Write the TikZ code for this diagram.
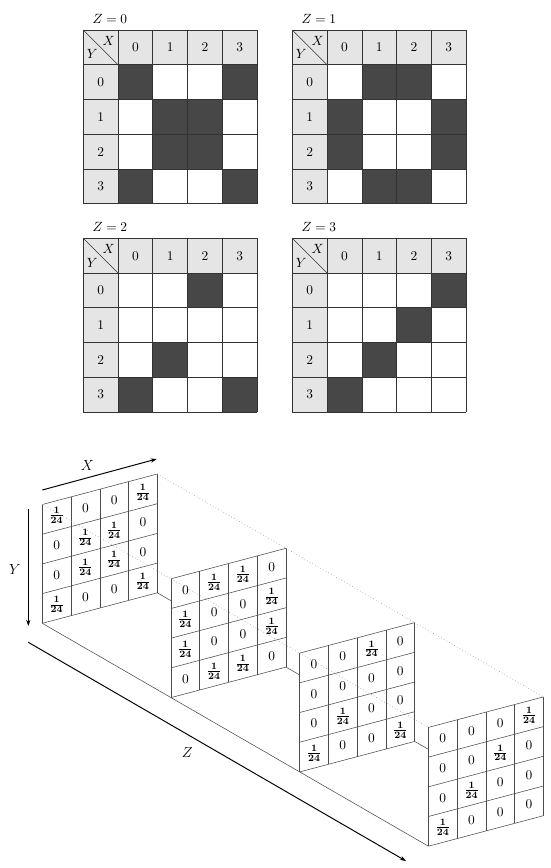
\documentclass[tikz,border=0pt]{standalone}
\usetikzlibrary{arrows.meta,calc}
\newcommand{\zgrid}[5]{%
\begin{scope}[shift={(#2,#3)}]
 \fill[hdr] (0,0) rectangle (173.75,34.75);
 \fill[hdr] (0,34.75) rectangle (34.75,173.75);
 \foreach \c/\r in {#5} \fill[dk] ({34.75*(\c+1)},{34.75*(\r+1)}) rectangle ++(34.75,34.75);
 \foreach \i in {0,...,5} {\draw[gl] ({34.75*\i},0) -- ({34.75*\i},173.75); \draw[gl] (0,{34.75*\i}) -- (173.75,{34.75*\i});}
 \coordinate (#1o) at (0,0);
 \coordinate (#1d) at (34.75,34.75);
 \draw[gl] (#1o) -- (#1d);
 \node (#1x) at (25.4,11.1) {$X$};
 \node (#1y) at (8.9,24.3) {$Y$};
 \foreach \i in {0,...,3} {\node (#1c\i) at ({34.75*(\i+1.5)},17.4) {\i}; \node (#1r\i) at (17.4,{34.75*(\i+1.5)}) {\i};}
 \node[anchor=base west,inner sep=0pt] (#1lab) at (9,-6.9) {$Z=#4$};
\end{scope}}
\newcommand{\pcoords}[2]{%
\begin{scope}[shift={({42.3+128.7*#1},{504.5+74.3*#1})}, x={(23.537pt,6.243pt)}, y={(0pt,-24.315pt)}]
 \coordinate (#2tl) at (0,0); \coordinate (#2tr) at (4,0);
 \coordinate (#2bl) at (0,4); \coordinate (#2br) at (4,4);
\end{scope}}
\newcommand{\panel}[3]{%
\begin{scope}[shift={({42.3+128.7*#1},{504.5+74.3*#1})}, x={(23.537pt,6.243pt)}, y={(0pt,-24.315pt)}]
 \fill[white] (#2tl) -- (#2tr) -- (#2br) -- (#2bl) -- cycle;
 \foreach \i in {0,...,4} {\draw[pl] (\i,0) -- (\i,4); \draw[pl] (0,\i) -- (4,\i);}
 \foreach \v [count=\n from 0] in {#3} {%
   \pgfmathtruncatemacro\col{mod(\n,4)}%
   \pgfmathtruncatemacro\row{div(\n,4)}%
   \node (#2n\n) at (\col+0.5,\row+0.5) {\ifnum\v=1 $\mathbf{\frac{1}{24}}$\else $0$\fi};}
\end{scope}}
\begin{document}
\begin{tikzpicture}[x=0.8187pt,y=-0.8187pt,
  every node/.style={font=\fontsize{10.95}{13.6}\selectfont},
  hdr/.style={fill=black!10},
  dk/.style={fill=black!72},
  gl/.style={draw=black!80,line width=0.5pt},
  pl/.style={draw=black!70,line width=0.45pt},
  dotl/.style={draw=black!40,dotted,line width=0.5pt},
  axarrow/.style={draw=black,line width=0.8pt,-{Stealth[length=5pt,width=3.5pt]}},
  axlab/.style={font=\fontsize{12}{14.5}\selectfont}]
\useasboundingbox (0,0) rectangle (550,868);
% top grids
\zgrid{G0}{83.3}{30}{0}{0/0,3/0,1/1,2/1,1/2,2/2,0/3,3/3}
\zgrid{G1}{292.3}{30}{1}{1/0,2/0,0/1,3/1,0/2,3/2,1/3,2/3}
\zgrid{G2}{83.3}{238.3}{2}{2/0,1/2,0/3,3/3}
\zgrid{G3}{292.3}{238.3}{3}{3/0,2/1,1/2,0/3}
% 3D panels
\pcoords{0}{A}\pcoords{1}{B}\pcoords{2}{C}\pcoords{3}{D}
\panel{0}{A}{1,0,0,1, 0,1,1,0, 0,1,1,0, 1,0,0,1}
\draw[dotl] (Atl) -- (Btl); \draw[dotl] (Atr) -- (Btr);
\draw[pl] (Abr) -- (Bbr); \draw[pl] (Abl) -- (Bbl);
\panel{1}{B}{0,1,1,0, 1,0,0,1, 1,0,0,1, 0,1,1,0}
\draw[dotl] (Btl) -- (Ctl); \draw[dotl] (Btr) -- (Ctr);
\draw[pl] (Bbr) -- (Cbr); \draw[pl] (Bbl) -- (Cbl);
\panel{2}{C}{0,0,1,0, 0,0,0,0, 0,1,0,0, 1,0,0,1}
\draw[dotl] (Ctl) -- (Dtl); \draw[dotl] (Ctr) -- (Dtr);
\draw[pl] (Cbr) -- (Dbr); \draw[pl] (Cbl) -- (Dbl);
\panel{3}{D}{0,0,0,1, 0,0,1,0, 0,1,0,0, 1,0,0,0}
% axes
\coordinate (xs) at (42.3,490); \coordinate (xe) at (156.7,459);
\coordinate (ys) at (28.3,509.3); \coordinate (ye) at (28.3,626);
\coordinate (zs) at (28.3,642.3); \coordinate (ze) at (406,861);
\draw[axarrow] (xs) -- (xe);
\draw[axarrow] (ys) -- (ye);
\draw[axarrow] (zs) -- (ze);
\node[axlab] (xl) at (87.3,465) {$X$};
\node[axlab] (yl) at (15,569) {$Y$};
\node[axlab] (zl) at (187.3,752) {$Z$};
\end{tikzpicture}
\end{document}
